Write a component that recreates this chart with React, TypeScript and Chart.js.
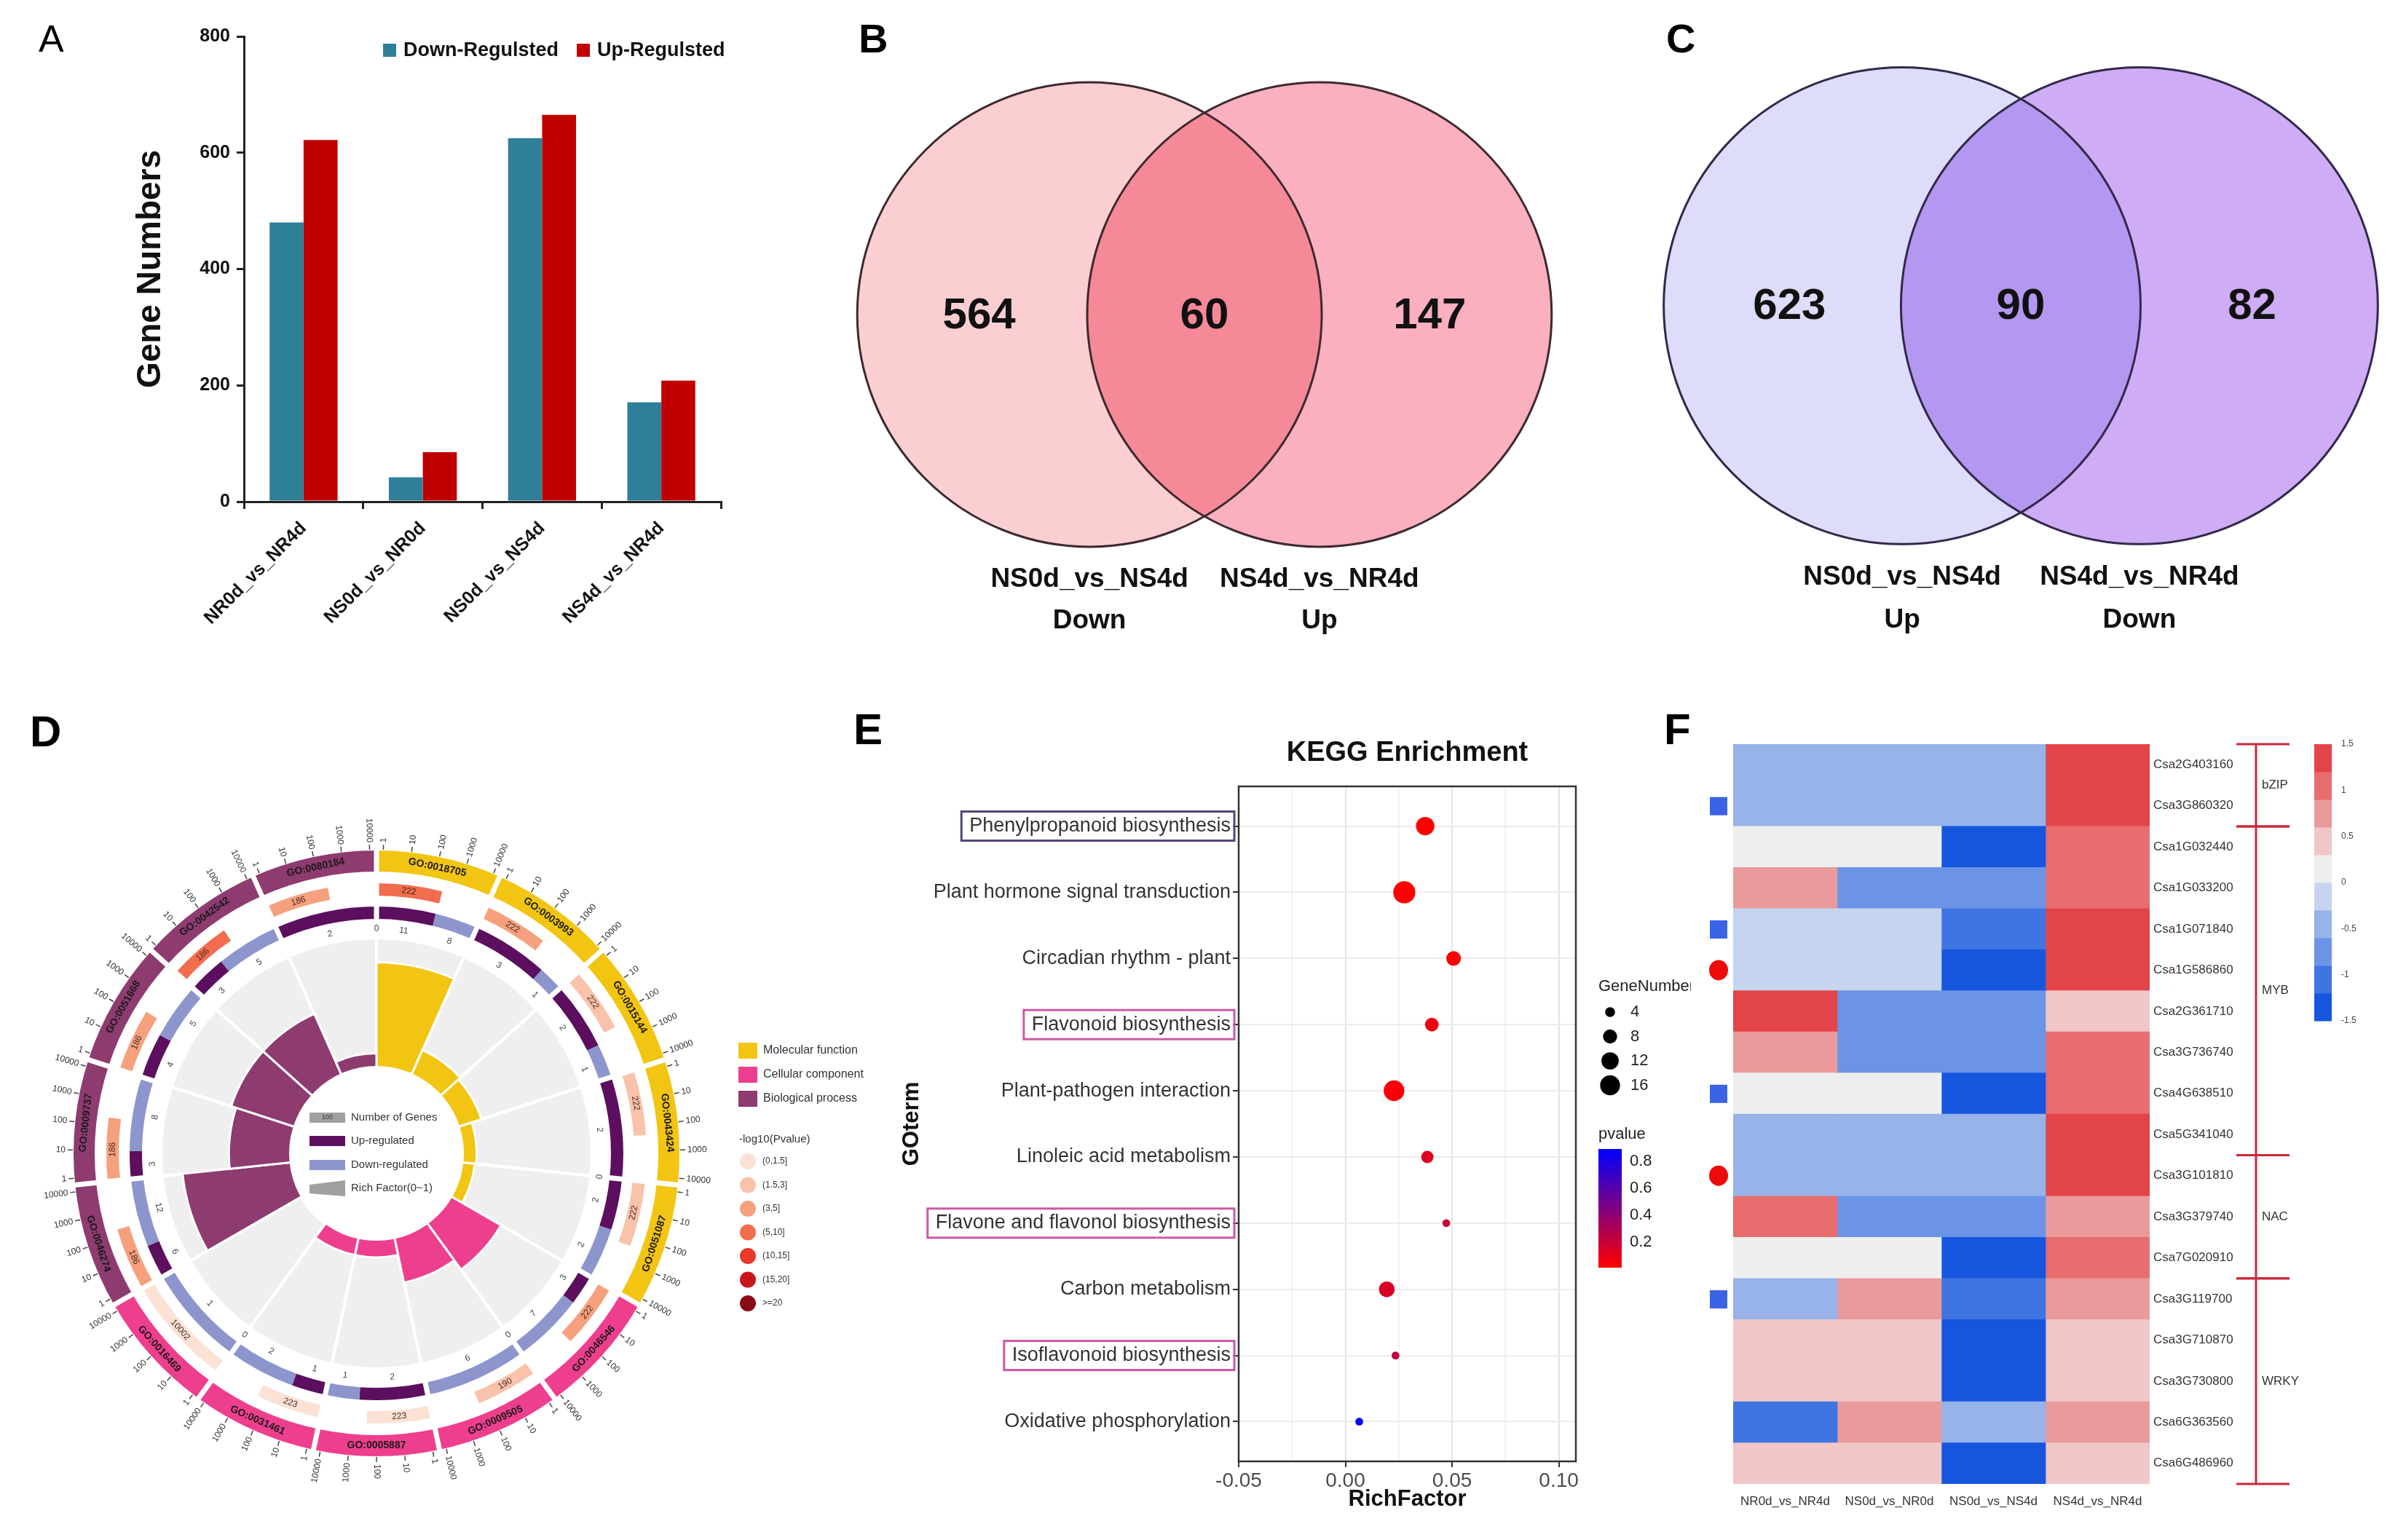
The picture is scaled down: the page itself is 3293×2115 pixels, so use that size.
import React, { useEffect, useRef } from 'react';
import { Chart, registerables } from 'chart.js';

Chart.register(...registerables);

const FONT = "'Liberation Sans', Arial, Helvetica, sans-serif";
Chart.defaults.font.family = FONT;

// ================= DATA =================
// Panel A
const comparisons = ['NR0d_vs_NR4d', 'NS0d_vs_NR0d', 'NS0d_vs_NS4d', 'NS4d_vs_NR4d'];
const downRegulated = [480, 42, 625, 171];
const upRegulated = [622, 85, 665, 208];
const regulationNames = ['Down-Regulsted', 'Up-Regulsted'];

// Panel B
const vennBCounts = [564, 60, 147];
const vennBSets = ['NS0d_vs_NS4d', 'NS4d_vs_NR4d'];
const vennBDirections = ['Down', 'Up'];
// Panel C
const vennCCounts = [623, 90, 82];
const vennCSets = ['NS0d_vs_NS4d', 'NS4d_vs_NR4d'];
const vennCDirections = ['Up', 'Down'];

// Panel D
const goTerms = ['GO:0018705', 'GO:0003993', 'GO:0015144', 'GO:0043424', 'GO:0051087', 'GO:0046546', 'GO:0009505', 'GO:0005887', 'GO:0031461', 'GO:0016469', 'GO:0046274', 'GO:0009737', 'GO:0051668', 'GO:0042542', 'GO:0080184'];
const goOntology = [0, 0, 0, 0, 0, 1, 1, 1, 1, 1, 2, 2, 2, 2, 2];
const goGeneNumber = [222, 222, 222, 222, 222, 222, 190, 223, 223, 10002, 186, 186, 186, 186, 186];
const goPvalueClass = [3, 2, 1, 1, 1, 2, 1, 0, 0, 0, 2, 2, 2, 3, 2];
const goUp = [11, 3, 2, 2, 2, 3, 0, 2, 1, 0, 6, 3, 4, 3, 2];
const goDown = [8, 1, 1, 0, 2, 7, 6, 1, 2, 1, 12, 8, 5, 5, 0];
const goRichFactor = [0.81, 0.2, 0.18, 0.1, 0.09, 0.44, 0.35, 0.13, 0.13, 0, 0.84, 0.47, 0.51, 0.51, 0.1];
const ontologyNames = ['Molecular function', 'Cellular component', 'Biological process'];
const pvalueClassNames = ['(0,1.5]', '(1.5,3]', '(3,5]', '(5,10]', '(10,15]', '(15,20]', '>=20'];
const geneAxisTicks = ['1', '10', '100', '1000', '10000'];

// Panel E
const keggTerms = ['Phenylpropanoid biosynthesis', 'Plant hormone signal transduction', 'Circadian rhythm - plant', 'Flavonoid biosynthesis', 'Plant-pathogen interaction', 'Linoleic acid metabolism', 'Flavone and flavonol biosynthesis', 'Carbon metabolism', 'Isoflavonoid biosynthesis', 'Oxidative phosphorylation'];
const keggRichFactor = [0.0374, 0.0276, 0.0507, 0.0405, 0.0228, 0.0384, 0.0473, 0.0194, 0.0235, 0.0065];
const keggGeneNumber = [11, 16, 7, 6, 14, 5, 2, 8, 2, 2];
const keggPvalue = [0.01, 0.01, 0.02, 0.06, 0.03, 0.12, 0.2, 0.14, 0.22, 0.89];
const keggXTicks = [-0.05, 0, 0.05, 0.1];
const geneNumberBreaks = [4, 8, 12, 16];
const pvalueBreaks = [0.8, 0.6, 0.4, 0.2];

// Panel F
const heatGenes = ['Csa2G403160', 'Csa3G860320', 'Csa1G032440', 'Csa1G033200', 'Csa1G071840', 'Csa1G586860', 'Csa2G361710', 'Csa3G736740', 'Csa4G638510', 'Csa5G341040', 'Csa3G101810', 'Csa3G379740', 'Csa7G020910', 'Csa3G119700', 'Csa3G710870', 'Csa3G730800', 'Csa6G363560', 'Csa6G486960'];
const heatColumns = ['NR0d_vs_NR4d', 'NS0d_vs_NR0d', 'NS0d_vs_NS4d', 'NS4d_vs_NR4d'];
const zNR0dVsNR4d = [-0.45, -0.45, 0.15, 0.75, -0.15, -0.15, 1.35, 0.75, 0.15, -0.45, -0.45, 1.05, 0.15, -0.45, 0.45, 0.45, -1.05, 0.45];
const zNS0dVsNR0d = [-0.45, -0.45, 0.15, -0.75, -0.15, -0.15, -0.75, -0.75, 0.15, -0.45, -0.45, -0.75, 0.15, 0.75, 0.45, 0.45, 0.75, 0.45];
const zNS0dVsNS4d = [-0.45, -0.45, -1.35, -0.75, -1.05, -1.35, -0.75, -0.75, -1.35, -0.45, -0.45, -0.75, -1.35, -1.05, -1.35, -1.35, -0.45, -1.35];
const zNS4dVsNR4d = [1.35, 1.35, 1.05, 1.05, 1.35, 1.35, 0.45, 1.05, 1.05, 1.35, 1.35, 0.75, 1.05, 0.75, 0.45, 0.45, 0.75, 0.45];
const heatMarkers = ['', 'square', '', '', 'square', 'circle', '', '', 'square', '', 'circle', '', '', 'square', '', '', '', ''];
const familyNames = ['bZIP', 'MYB', 'NAC', 'WRKY'];
const familyFirstRow = [0, 2, 10, 13];
const familyLastRow = [1, 9, 12, 17];
const heatLegendTicks = [1.5, 1, 0.5, 0, -0.5, -1, -1.5];

// ================= STYLES =================
const TRANSPARENT = 'rgba(0,0,0,0)';
const BAR_COLORS = ['#2f7f98', '#c00000'];
const ONTOLOGY_COLORS = ['#f2c513', '#ee3f8e', '#8e3b70'];
const PCLASS_COLORS = ['#fbe2d5', '#f8c3aa', '#f6a07e', '#f26d4e', '#e8392b', '#c9161d', '#8b0b14'];
const UP_COLOR = '#5c0f5e';
const DOWN_COLOR = '#8d95cd';
const HEAT_PALETTE = ['#1656df', '#3f74e1', '#6b94e6', '#97b3ea', '#c6d4f0', '#eeeeee', '#f0c6c7', '#ea9a9b', '#e76d6f', '#e3444a'];
const KEGG_BOX_COLORS: any = {
  'Phenylpropanoid biosynthesis': '#57447a',
  'Flavonoid biosynthesis': '#cc59a5',
  'Flavone and flavonol biosynthesis': '#cc59a5',
  'Isoflavonoid biosynthesis': '#cc59a5',
};

const bubbleRadius = (n: number) => 3.8 * Math.sqrt(n);
const pRange = () => [Math.min(...keggPvalue), Math.max(...keggPvalue)];
const pvalueColor = (p: number) => {
  const [lo, hi] = pRange();
  const t = Math.max(0, Math.min(1, (p - lo) / (hi - lo)));
  return `rgb(${Math.round(255 * (1 - t))},0,${Math.round(255 * t)})`;
};
const zColor = (z: number) => {
  const idx = Math.min(9, Math.max(0, Math.floor((z + 1.5) / 0.3)));
  return HEAT_PALETTE[idx];
};

const base = {
  animation: false,
  responsive: false,
  devicePixelRatio: 1,
  events: [],
};

// ================= PLUGINS =================
const barLegendPlugin = {
  id: 'barLegend',
  afterDraw(chart: any) {
    const { ctx, chartArea } = chart;
    ctx.save();
    ctx.font = `bold 27px ${FONT}`;
    ctx.textBaseline = 'middle';
    ctx.textAlign = 'left';
    let x = chartArea.left + 191;
    const y = chartArea.top + 19;
    chart.data.datasets.forEach((ds: any) => {
      ctx.fillStyle = ds.backgroundColor;
      ctx.fillRect(x, y - 9, 18, 18);
      x += 28;
      ctx.fillStyle = '#111';
      ctx.fillText(ds.label, x, y + 1);
      x += ctx.measureText(ds.label).width + 25;
    });
    ctx.restore();
  },
};

const vennPlugin = {
  id: 'venn',
  beforeDatasetsDraw(chart: any, _a: any, o: any) {
    const { ctx } = chart;
    const xs = chart.scales.x;
    const ys = chart.scales.y;
    const r = xs.getPixelForValue(1) - xs.getPixelForValue(0);
    const yc = ys.getPixelForValue(0);
    const xa = xs.getPixelForValue(-o.sep / 2);
    const xb = xs.getPixelForValue(o.sep / 2);
    const circle = (x: number) => {
      ctx.beginPath();
      ctx.arc(x, yc, r, 0, Math.PI * 2);
    };
    ctx.save();
    ctx.fillStyle = o.fills[0];
    circle(xa);
    ctx.fill();
    ctx.fillStyle = o.fills[1];
    circle(xb);
    ctx.fill();
    ctx.save();
    circle(xa);
    ctx.clip();
    ctx.fillStyle = o.fills[2];
    circle(xb);
    ctx.fill();
    ctx.restore();
    ctx.strokeStyle = o.stroke;
    ctx.lineWidth = 3;
    circle(xa);
    ctx.stroke();
    circle(xb);
    ctx.stroke();
    ctx.fillStyle = '#111';
    ctx.textAlign = 'center';
    ctx.textBaseline = 'middle';
    ctx.font = `bold 37px ${FONT}`;
    [xa, xb].forEach((x: number, i: number) => {
      ctx.fillText(o.sets[i], x, ys.getPixelForValue(-1.14));
      ctx.fillText(o.directions[i], x, ys.getPixelForValue(-1.32));
    });
    ctx.restore();
  },
  afterDatasetsDraw(chart: any, _a: any, o: any) {
    const { ctx } = chart;
    const pts = chart.getDatasetMeta(0).data;
    ctx.save();
    ctx.fillStyle = '#111';
    ctx.textAlign = 'center';
    ctx.textBaseline = 'middle';
    ctx.font = `bold 60px ${FONT}`;
    pts.forEach((p: any, i: number) => ctx.fillText(String(o.counts[i]), p.x, p.y + 2));
    ctx.restore();
  },
};

const goRingPlugin = {
  id: 'goRing',
  afterDatasetsDraw(chart: any) {
    const { ctx } = chart;
    const ring = chart.getDatasetMeta(0).data;
    const geneArcs = chart.getDatasetMeta(2).data;
    const udArcs = chart.getDatasetMeta(4).data;
    const cx = ring[0].x;
    const cy = ring[0].y;
    const rOut = ring[0].outerRadius;
    const rIn = ring[0].innerRadius;
    const gOut = geneArcs[0].outerRadius;
    const gIn = geneArcs[0].innerRadius;
    const uIn = udArcs[0].innerRadius;
    const P = (a: number, r: number) => [cx + Math.cos(a) * r, cy + Math.sin(a) * r];
    const tangential = (txt: string, a: number, r: number) => {
      const [x, y] = P(a, r);
      ctx.save();
      ctx.translate(x, y);
      ctx.rotate(Math.sin(a) > 0.05 ? a - Math.PI / 2 : a + Math.PI / 2);
      ctx.textAlign = 'center';
      ctx.textBaseline = 'middle';
      ctx.fillText(txt, 0, 0);
      ctx.restore();
    };
    const radial = (txt: string, a: number, r: number) => {
      const [x, y] = P(a, r);
      ctx.save();
      ctx.translate(x, y);
      if (Math.cos(a) >= -0.01) {
        ctx.rotate(a);
        ctx.textAlign = 'left';
      } else {
        ctx.rotate(a + Math.PI);
        ctx.textAlign = 'right';
      }
      ctx.textBaseline = 'middle';
      ctx.fillText(txt, 0, 0);
      ctx.restore();
    };
    ctx.save();
    // white separators between GO terms
    ctx.strokeStyle = '#fff';
    ctx.lineWidth = 7;
    ring.forEach((a: any) => {
      const [x1, y1] = P(a.startAngle, uIn - 3);
      const [x2, y2] = P(a.startAngle, rOut + 1);
      ctx.beginPath();
      ctx.moveTo(x1, y1);
      ctx.lineTo(x2, y2);
      ctx.stroke();
    });
    // outer log axis ticks
    const inset = (1.3 * Math.PI) / 180;
    ctx.strokeStyle = '#444';
    ctx.lineWidth = 1.5;
    ctx.fillStyle = '#333';
    ctx.font = `12px ${FONT}`;
    ring.forEach((a: any) => {
      const span = a.endAngle - a.startAngle - 2 * inset;
      geneAxisTicks.forEach((lab: string, k: number) => {
        const ang = a.startAngle + inset + (span * k) / 4;
        const [x1, y1] = P(ang, rOut + 1);
        const [x2, y2] = P(ang, rOut + 8);
        ctx.beginPath();
        ctx.moveTo(x1, y1);
        ctx.lineTo(x2, y2);
        ctx.stroke();
        radial(lab, ang, rOut + 11);
      });
    });
    // GO term labels
    ctx.fillStyle = '#1a1a1a';
    ctx.font = `bold 14px ${FONT}`;
    ring.forEach((a: any, i: number) => tangential(goTerms[i], (a.startAngle + a.endAngle) / 2, (rOut + rIn) / 2));
    // gene number labels
    ctx.fillStyle = '#4a2a22';
    ctx.font = `12px ${FONT}`;
    goGeneNumber.forEach((n: number, i: number) => {
      const arc = geneArcs[2 * i];
      tangential(String(n), (arc.startAngle + arc.endAngle) / 2, (gOut + gIn) / 2);
    });
    // up / down counts
    ctx.fillStyle = '#444';
    ctx.font = `12px ${FONT}`;
    goUp.forEach((u: number, i: number) => {
      const up = udArcs[2 * i];
      const dn = udArcs[2 * i + 1];
      tangential(String(u), (up.startAngle + up.endAngle) / 2, uIn - 14);
      tangential(String(goDown[i]), (dn.startAngle + dn.endAngle) / 2, uIn - 14);
    });
    // right legend
    ctx.textAlign = 'left';
    ctx.textBaseline = 'middle';
    ctx.font = `16px ${FONT}`;
    ontologyNames.forEach((n: string, i: number) => {
      const y = cy - 141 + i * 33;
      ctx.fillStyle = ONTOLOGY_COLORS[i];
      ctx.fillRect(cx + 497, y - 11, 26, 22);
      ctx.fillStyle = '#333';
      ctx.fillText(n, cx + 531, y);
    });
    ctx.font = `15px ${FONT}`;
    ctx.fillStyle = '#333';
    ctx.fillText('-log10(Pvalue)', cx + 498, cy - 19);
    pvalueClassNames.forEach((n: string, i: number) => {
      const y = cy + 11 + i * 32.5;
      ctx.fillStyle = PCLASS_COLORS[i];
      ctx.beginPath();
      ctx.arc(cx + 510, y, 11, 0, Math.PI * 2);
      ctx.fill();
      ctx.fillStyle = '#333';
      ctx.font = `12px ${FONT}`;
      ctx.fillText(n, cx + 530, y);
    });
    ctx.restore();
  },
};

const goCorePlugin = {
  id: 'goCore',
  afterDatasetsDraw(chart: any) {
    const { ctx } = chart;
    const s = chart.scales.r;
    const cx = s.xCenter;
    const cy = s.yCenter;
    const r0 = s.getDistanceFromCenterForValue(0);
    ctx.save();
    ctx.fillStyle = '#fff';
    ctx.beginPath();
    ctx.arc(cx, cy, r0, 0, Math.PI * 2);
    ctx.fill();
    const rows = [-49, -17, 16, 48];
    const bx = cx - 92;
    const tx = cx - 35;
    ctx.fillStyle = '#a0a0a0';
    ctx.fillRect(bx, cy + rows[0] - 7, 49, 14);
    ctx.fillStyle = '#333';
    ctx.font = `9px ${FONT}`;
    ctx.textAlign = 'center';
    ctx.textBaseline = 'middle';
    ctx.fillText('100', bx + 24.5, cy + rows[0]);
    ctx.fillStyle = UP_COLOR;
    ctx.fillRect(bx, cy + rows[1] - 7, 49, 14);
    ctx.fillStyle = DOWN_COLOR;
    ctx.fillRect(bx, cy + rows[2] - 7, 49, 14);
    ctx.fillStyle = '#a0a0a0';
    ctx.beginPath();
    ctx.moveTo(bx, cy + rows[3] - 5);
    ctx.lineTo(bx + 49, cy + rows[3] - 11);
    ctx.lineTo(bx + 49, cy + rows[3] + 11);
    ctx.lineTo(bx, cy + rows[3] + 7);
    ctx.closePath();
    ctx.fill();
    ctx.fillStyle = '#333';
    ctx.font = `15px ${FONT}`;
    ctx.textAlign = 'left';
    ['Number of Genes', 'Up-regulated', 'Down-regulated', 'Rich Factor(0~1)'].forEach((t, i) =>
      ctx.fillText(t, tx, cy + rows[i])
    );
    ctx.restore();
  },
};

const keggPlugin = {
  id: 'kegg',
  afterDraw(chart: any) {
    const { ctx, chartArea: ca } = chart;
    const ys = chart.scales.y;
    ctx.save();
    ctx.strokeStyle = '#333';
    ctx.lineWidth = 2.5;
    ctx.strokeRect(ca.left, ca.top, ca.right - ca.left, ca.bottom - ca.top);
    ctx.fillStyle = '#111';
    ctx.font = `bold 38px ${FONT}`;
    ctx.textAlign = 'center';
    ctx.textBaseline = 'middle';
    ctx.fillText('KEGG Enrichment', (ca.left + ca.right) / 2, ca.top - 45);
    ctx.font = `27px ${FONT}`;
    keggTerms.forEach((t: string, i: number) => {
      const c = KEGG_BOX_COLORS[t];
      if (!c) return;
      const y = ys.getPixelForValue(i + 1);
      const w = ctx.measureText(t).width;
      const textRight = ca.left - 11;
      const left = textRight - w - 11;
      ctx.strokeStyle = c;
      ctx.lineWidth = 3;
      ctx.strokeRect(left, y - 20, ca.left - 6 - left, 40);
    });
    const lx = ca.right + 31;
    ctx.textAlign = 'left';
    ctx.fillStyle = '#222';
    ctx.font = `22px ${FONT}`;
    ctx.fillText('GeneNumber', lx, ca.top + 275);
    geneNumberBreaks.forEach((n: number, i: number) => {
      const y = ca.top + 310 + i * 33.5;
      ctx.fillStyle = '#000';
      ctx.beginPath();
      ctx.arc(lx + 16, y, bubbleRadius(n) * 0.9, 0, Math.PI * 2);
      ctx.fill();
      ctx.fillStyle = '#222';
      ctx.fillText(String(n), lx + 44, y);
    });
    ctx.fillText('pvalue', lx, ca.top + 478);
    const top = ca.top + 498;
    const bot = ca.top + 661;
    const [lo, hi] = pRange();
    const grad = ctx.createLinearGradient(0, bot, 0, top);
    for (let k = 0; k <= 10; k++) grad.addColorStop(k / 10, pvalueColor(lo + ((hi - lo) * k) / 10));
    ctx.fillStyle = grad;
    ctx.fillRect(lx, top, 32, bot - top);
    ctx.fillStyle = '#222';
    pvalueBreaks.forEach((p: number) => {
      const y = bot - ((p - lo) / (hi - lo)) * (bot - top);
      ctx.fillText(p.toFixed(1), lx + 43, y);
    });
    ctx.restore();
  },
};

const heatPlugin = {
  id: 'heatExtras',
  afterDraw(chart: any) {
    const { ctx, chartArea: ca } = chart;
    const ys = chart.scales.y;
    const rowH = (ca.bottom - ca.top) / heatGenes.length;
    ctx.save();
    heatMarkers.forEach((m: string, i: number) => {
      const y = ys.getPixelForValue(i);
      const x = ca.left - 20;
      if (m === 'square') {
        ctx.fillStyle = '#3a63e6';
        ctx.fillRect(x - 12, y - 12, 24, 25);
      } else if (m === 'circle') {
        ctx.fillStyle = '#ee0a0a';
        ctx.beginPath();
        ctx.ellipse(x, y, 13, 14, 0, 0, Math.PI * 2);
        ctx.fill();
      }
    });
    const bx = ca.right + 146;
    ctx.strokeStyle = '#c8283c';
    ctx.lineWidth = 3;
    ctx.beginPath();
    ctx.moveTo(bx, ca.top);
    ctx.lineTo(bx, ca.bottom);
    ctx.stroke();
    ctx.font = `17px ${FONT}`;
    ctx.fillStyle = '#333';
    ctx.textAlign = 'left';
    ctx.textBaseline = 'middle';
    familyNames.forEach((name: string, k: number) => {
      const t = ys.getPixelForValue(familyFirstRow[k]) - rowH / 2;
      const b = ys.getPixelForValue(familyLastRow[k]) + rowH / 2;
      [t, b].forEach((yy) => {
        ctx.beginPath();
        ctx.moveTo(bx - 27, yy);
        ctx.lineTo(bx + 46, yy);
        ctx.stroke();
      });
      ctx.fillText(name, bx + 8, (t + b) / 2);
    });
    const cbx = ca.right + 226;
    const cbTop = ca.top;
    const cbBot = ca.top + 380;
    const band = (cbBot - cbTop) / HEAT_PALETTE.length;
    HEAT_PALETTE.forEach((c: string, k: number) => {
      ctx.fillStyle = c;
      ctx.fillRect(cbx, cbBot - (k + 1) * band, 24, band + 0.5);
    });
    ctx.fillStyle = '#444';
    ctx.font = `12px ${FONT}`;
    heatLegendTicks.forEach((v: number) => {
      const y = cbBot - ((v + 1.5) / 3) * (cbBot - cbTop);
      ctx.fillText(String(v), cbx + 37, y);
    });
    ctx.restore();
  },
};

// ================= CONFIGS =================
const barConfig = () => ({
  type: 'bar',
  data: {
    labels: comparisons,
    datasets: [
      { label: regulationNames[0], data: downRegulated, backgroundColor: BAR_COLORS[0] },
      { label: regulationNames[1], data: upRegulated, backgroundColor: BAR_COLORS[1] },
    ],
  },
  options: {
    ...base,
    layout: { padding: { left: 0, top: 50, right: 110, bottom: 0 } },
    datasets: { bar: { categoryPercentage: 0.57, barPercentage: 1 } },
    plugins: { legend: { display: false }, tooltip: { enabled: false } },
    scales: {
      x: {
        grid: { drawOnChartArea: false, drawTicks: true, tickLength: 10, color: '#222', lineWidth: 3, offset: true },
        border: { color: '#222', width: 3 },
        ticks: { font: { size: 25, weight: 'bold' }, color: '#111', minRotation: 45, maxRotation: 45, padding: 12 },
        afterFit: (s: any) => { s.height = 211; },
      },
      y: {
        min: 0,
        max: 800,
        ticks: { stepSize: 200, font: { size: 25, weight: 'bold' }, color: '#111', padding: 9 },
        grid: { drawOnChartArea: false, drawTicks: true, tickLength: 10, color: '#222', lineWidth: 3 },
        border: { color: '#222', width: 3 },
        title: { display: true, text: 'Gene Numbers', color: '#111', font: { size: 46, weight: 'bold' }, padding: { top: 180, bottom: 0 } },
        afterFit: (s: any) => { s.width = 335; },
      },
    },
  },
  plugins: [barLegendPlugin],
});

const vennConfig = (counts: number[], sets: string[], directions: string[], fills: string[], stroke: string, sep: number, range: number[]) => () => ({
  type: 'scatter',
  data: { datasets: [{ data: [{ x: -0.97, y: 0 }, { x: 0, y: 0 }, { x: 0.97, y: 0 }], pointRadius: 0 }] },
  options: {
    ...base,
    plugins: { legend: { display: false }, tooltip: { enabled: false }, venn: { counts, sets, directions, fills, stroke, sep } },
    scales: {
      x: { type: 'linear', display: false, min: range[0], max: range[1] },
      y: { type: 'linear', display: false, min: range[2], max: range[3] },
    },
  },
  plugins: [vennPlugin],
});

const goRingConfig = () => {
  const geneFrac = goGeneNumber.map((n) => Math.min(1, Math.log10(n) / 4));
  return {
    type: 'doughnut',
    data: {
      labels: goTerms,
      datasets: [
        { data: goTerms.map(() => 1), backgroundColor: goOntology.map((o) => ONTOLOGY_COLORS[o]), weight: 29, borderWidth: 0 },
        { data: [1], backgroundColor: [TRANSPARENT], weight: 16, borderWidth: 0 },
        { data: geneFrac.flatMap((f) => [f, 1 - f]), backgroundColor: goPvalueClass.flatMap((c) => [PCLASS_COLORS[c], TRANSPARENT]), weight: 17, borderWidth: 0 },
        { data: [1], backgroundColor: [TRANSPARENT], weight: 15, borderWidth: 0 },
        {
          data: goUp.flatMap((u, i) => [u / (u + goDown[i]), goDown[i] / (u + goDown[i])]),
          backgroundColor: goUp.flatMap(() => [UP_COLOR, DOWN_COLOR]),
          weight: 17,
          borderWidth: 0,
        },
      ],
    },
    options: {
      ...base,
      radius: 416,
      cutout: '77.4%',
      layout: { padding: { left: 101, top: 218, right: 257, bottom: 115 } },
      plugins: { legend: { display: false }, tooltip: { enabled: false } },
    },
    plugins: [goRingPlugin],
  };
};

const goCoreConfig = () => ({
  type: 'polarArea',
  data: {
    labels: goTerms,
    datasets: [
      { data: goRichFactor, backgroundColor: goOntology.map((o) => ONTOLOGY_COLORS[o]), borderColor: '#fff', borderWidth: 3 },
      { data: goTerms.map(() => 1), backgroundColor: '#efefef', borderColor: '#fff', borderWidth: 4 },
    ],
  },
  options: {
    ...base,
    layout: { padding: { left: 221, top: 338, right: 377, bottom: 235 } },
    plugins: { legend: { display: false }, tooltip: { enabled: false } },
    scales: { r: { display: false, min: -0.682, max: 1 } },
  },
  plugins: [goCorePlugin],
});

const isMajor = (v: number) => Math.abs(Math.round(v / 0.025)) % 2 === 0;

const keggConfig = () => ({
  type: 'scatter',
  data: {
    datasets: [
      {
        data: keggRichFactor.map((x, i) => ({ x, y: i + 1 })),
        pointRadius: (c: any) => bubbleRadius(keggGeneNumber[c.dataIndex]),
        pointBackgroundColor: (c: any) => pvalueColor(keggPvalue[c.dataIndex]),
        pointBorderWidth: 0,
      },
    ],
  },
  options: {
    ...base,
    layout: { padding: { left: 0, top: 130, right: 158, bottom: 0 } },
    plugins: { legend: { display: false }, tooltip: { enabled: false } },
    scales: {
      x: {
        type: 'linear',
        min: keggXTicks[0],
        max: 0.108,
        border: { display: false },
        ticks: {
          stepSize: 0.025,
          includeBounds: false,
          autoSkip: false,
          maxRotation: 0,
          color: '#4d4d4d',
          font: { size: 28 },
          padding: 2,
          callback: (v: number) => {
            const m = keggXTicks.find((t) => Math.abs(t - v) < 1e-6);
            return m === undefined ? '' : m.toFixed(2);
          },
        },
        grid: {
          color: (c: any) => (isMajor(c.tick.value) ? '#e4e4e4' : '#f2f2f2'),
          lineWidth: 2,
          tickLength: 8,
          tickWidth: 2,
          tickColor: (c: any) => (isMajor(c.tick.value) ? '#333' : TRANSPARENT),
        },
        title: { display: true, text: 'RichFactor', color: '#111', font: { size: 31, weight: 'bold' }, padding: { top: 0, bottom: 37 } },
        afterFit: (s: any) => { s.height = 108; },
      },
      y: {
        type: 'linear',
        min: 0.4,
        max: 10.6,
        reverse: true,
        border: { display: false },
        afterBuildTicks: (s: any) => { s.ticks = keggTerms.map((_, i) => ({ value: i + 1 })); },
        ticks: { autoSkip: false, color: '#333', font: { size: 27 }, padding: 3, callback: (v: number) => keggTerms[Math.round(v) - 1] },
        grid: { color: '#ebebeb', lineWidth: 2, tickLength: 8, tickWidth: 2, tickColor: '#333' },
        title: { display: true, text: 'GOterm', color: '#111', font: { size: 31, weight: 'bold' }, padding: { top: 84, bottom: 0 } },
        afterFit: (s: any) => { s.width = 551; },
      },
    },
  },
  plugins: [keggPlugin],
});

const heatConfig = () => {
  const cols = [zNR0dVsNR4d, zNS0dVsNR0d, zNS0dVsNS4d, zNS4dVsNR4d];
  return {
    type: 'bar',
    data: {
      labels: heatGenes,
      datasets: heatColumns.map((c, j) => ({
        label: c,
        data: heatGenes.map(() => 1),
        backgroundColor: cols[j].map(zColor),
        borderWidth: 0,
        xAxisID: 'x',
      })),
    },
    options: {
      ...base,
      indexAxis: 'y',
      layout: { padding: { left: 58, top: 72, right: 0, bottom: 0 } },
      datasets: { bar: { barPercentage: 1, categoryPercentage: 1 } },
      plugins: { legend: { display: false }, tooltip: { enabled: false } },
      scales: {
        x: { type: 'linear', stacked: true, min: 0, max: heatColumns.length, display: false },
        xc: {
          type: 'category',
          labels: heatColumns,
          position: 'bottom',
          offset: true,
          grid: { display: false, drawTicks: false },
          border: { display: false },
          ticks: { color: '#333', font: { size: 17 }, padding: 14, maxRotation: 0, autoSkip: false },
          afterFit: (s: any) => { s.height = 77; },
        },
        y: {
          type: 'category',
          stacked: true,
          position: 'right',
          grid: { display: false, drawTicks: false },
          border: { display: false },
          ticks: { color: '#333', font: { size: 17 }, padding: 5, autoSkip: false },
          afterFit: (s: any) => { s.width = 341; },
        },
      },
    },
    plugins: [heatPlugin],
  };
};

// ================= COMPONENTS =================
function ChartCanvas({ left, top, width, height, build }: any) {
  const ref = useRef<HTMLCanvasElement | null>(null);
  useEffect(() => {
    if (!ref.current) return;
    const chart = new Chart(ref.current, build() as any);
    return () => chart.destroy();
  }, [build]);
  return (
    <canvas
      ref={ref}
      width={width}
      height={height}
      style={{ position: 'absolute', left, top, width, height, display: 'block' }}
    />
  );
}

function PanelLetter({ text, left, top, size, bold }: any) {
  return (
    <div
      style={{
        position: 'absolute',
        left,
        top,
        fontFamily: FONT,
        fontSize: size,
        fontWeight: bold ? 'bold' : 'normal',
        lineHeight: 1,
        color: '#000',
      }}
    >
      {text}
    </div>
  );
}

const buildB = vennConfig(vennBCounts, vennBSets, vennBDirections, ['#fbcfd2', '#fab0bf', '#f68998'], '#3d2a30', 0.99, [-1.737, 1.712, -1.467, 1.354]);
const buildC = vennConfig(vennCCounts, vennCSets, vennCDirections, ['#dddcfa', '#ceacf6', '#b497f0'], '#33294a', 0.995, [-1.756, 1.582, -1.466, 1.282]);

export default function App() {
  return (
    <div style={{ position: 'absolute', left: 0, top: 0, width: 3293, height: 2115, background: '#fff', overflow: 'hidden' }}>
      <ChartCanvas left={0} top={0} width={1100} height={900} build={barConfig} />
      <ChartCanvas left={1100} top={0} width={1100} height={900} build={buildB} />
      <ChartCanvas left={2200} top={0} width={1093} height={900} build={buildC} />
      <ChartCanvas left={0} top={950} width={1190} height={1165} build={goRingConfig} />
      <ChartCanvas left={0} top={950} width={1190} height={1165} build={goCoreConfig} />
      <ChartCanvas left={1150} top={950} width={1172} height={1165} build={keggConfig} />
      <ChartCanvas left={2322} top={950} width={971} height={1165} build={heatConfig} />
      <PanelLetter text="A" left={53} top={27} size={52} />
      <PanelLetter text="B" left={1179} top={25} size={56} bold />
      <PanelLetter text="C" left={2288} top={25} size={56} bold />
      <PanelLetter text="D" left={41} top={975} size={60} bold />
      <PanelLetter text="E" left={1172} top={972} size={60} bold />
      <PanelLetter text="F" left={2285} top={972} size={60} bold />
    </div>
  );
}
